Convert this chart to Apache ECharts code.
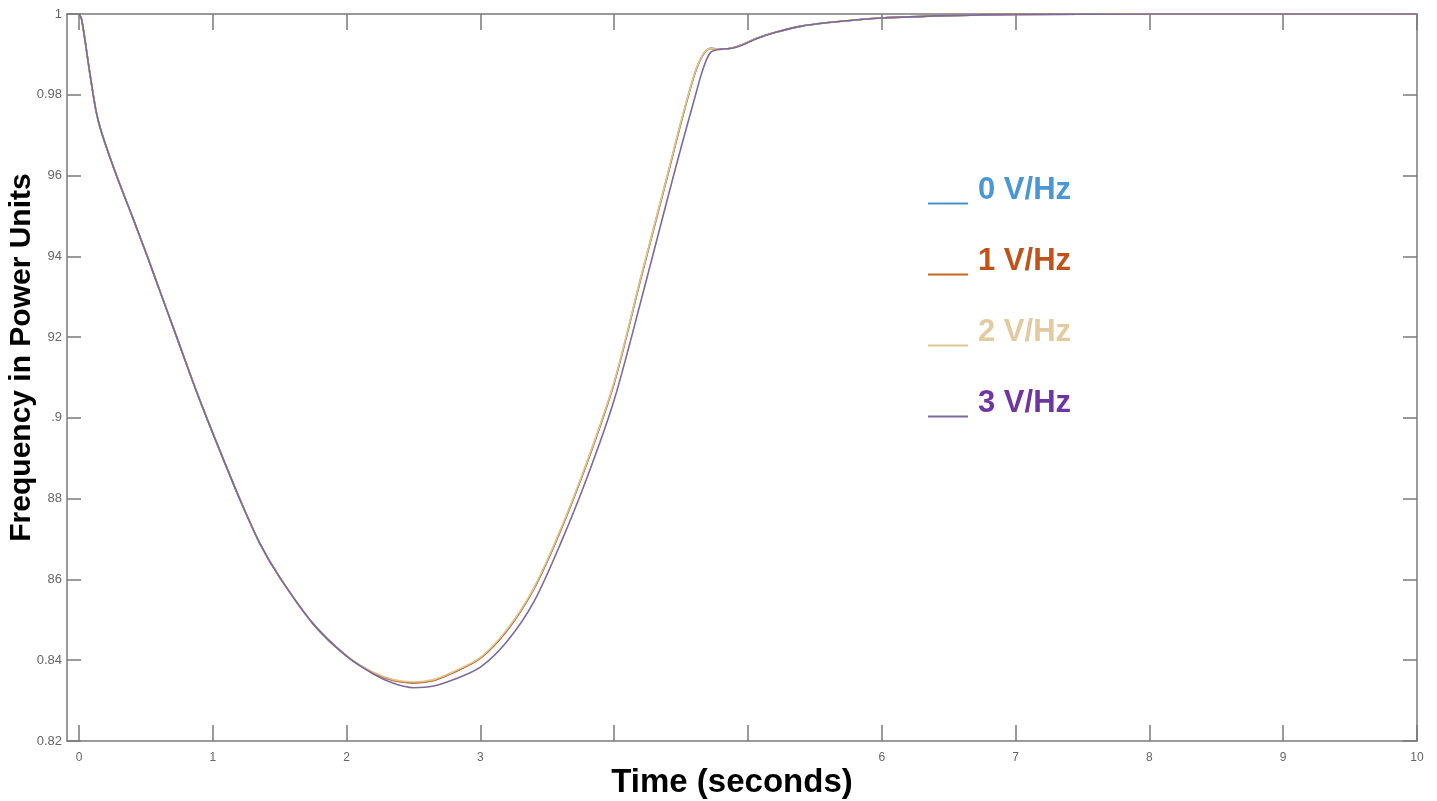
<!DOCTYPE html>
<html>
<head>
<meta charset="utf-8">
<title>Frequency response</title>
<script src="https://cdn.jsdelivr.net/npm/echarts@6/dist/echarts.min.js"></script>
<style>
  html, body { margin: 0; padding: 0; background: #fff; }
  #chart { width: 1437px; height: 801px; }
</style>
</head>
<body>
<div id="chart"></div>
<script>
// time in seconds
var times = [0, 0.02, 0.08, 0.13, 0.17, 0.28, 0.4, 0.51, 0.6, 0.73, 0.85, 0.96, 1.1, 1.2, 1.35, 1.5, 1.75, 2.0,
  2.2, 2.35, 2.5, 2.65, 2.8, 3.0, 3.2, 3.4, 3.6, 3.8, 4.0, 4.2, 4.4, 4.5, 4.6, 4.66, 4.72, 4.8, 4.88, 4.95,
  5.05, 5.2, 5.4, 5.7, 6.0, 6.5, 7.0, 8.0, 9.0, 10.0];

var freq0 = [1, 0.9986, 0.9855, 0.9755, 0.9705, 0.96, 0.9497, 0.94, 0.9318, 0.92, 0.909, 0.8995, 0.888, 0.88, 0.869, 0.8605, 0.849, 0.841,
  0.8368, 0.8350, 0.8344, 0.8350, 0.8370, 0.8405, 0.8474, 0.8577, 0.8722, 0.8892, 0.9087, 0.9347, 0.9602, 0.9732, 0.985, 0.9897,
  0.9915, 0.9913, 0.9916, 0.9923, 0.9938, 0.9954, 0.997, 0.9982, 0.999, 0.9996, 0.9999, 1, 1, 1];
var freq1 = [1, 0.9986, 0.9855, 0.9755, 0.9705, 0.96, 0.9497, 0.94, 0.9318, 0.92, 0.909, 0.8995, 0.888, 0.88, 0.869, 0.8605, 0.849, 0.841,
  0.8368, 0.8350, 0.8344, 0.8350, 0.8370, 0.8405, 0.8474, 0.8577, 0.8722, 0.8892, 0.9087, 0.9347, 0.9602, 0.9732, 0.985, 0.9897,
  0.9915, 0.9913, 0.9916, 0.9923, 0.9938, 0.9954, 0.997, 0.9982, 0.999, 0.9996, 0.9999, 1, 1, 1];
var freq2 = [1, 0.9986, 0.9855, 0.9755, 0.9705, 0.96, 0.9497, 0.94, 0.9318, 0.92, 0.909, 0.8995, 0.888, 0.88, 0.869, 0.8605, 0.849, 0.841,
  0.837, 0.8352, 0.8346, 0.8352, 0.8372, 0.8407, 0.8477, 0.858, 0.8725, 0.8895, 0.909, 0.935, 0.9605, 0.9735, 0.9852, 0.9898,
  0.9915, 0.9913, 0.9916, 0.9923, 0.9938, 0.9954, 0.997, 0.9982, 0.999, 0.9996, 0.9999, 1, 1, 1];
var freq3 = [1, 0.9986, 0.9855, 0.9755, 0.9705, 0.96, 0.9497, 0.94, 0.9318, 0.92, 0.909, 0.8995, 0.888, 0.88, 0.869, 0.8605, 0.849, 0.841,
  0.8366, 0.8343, 0.8332, 0.8336, 0.8352, 0.8383, 0.8447, 0.8545, 0.869, 0.8855, 0.9045, 0.929, 0.9545, 0.967, 0.979, 0.986,
  0.9905, 0.9913, 0.9915, 0.9922, 0.9937, 0.9954, 0.997, 0.9982, 0.999, 0.9996, 0.9999, 1, 1, 1];

var seriesNames = ['0 V/Hz', '1 V/Hz', '2 V/Hz', '3 V/Hz'];
var lineColors = ['#4a90c8', '#c8641e', '#e2c58e', '#7a6a9e'];
var textColors = ['#4a97d3', '#c0531a', '#e2cba0', '#6f35a0'];

var xTicks = [0, 1, 2, 3, 4, 5, 6, 7, 8, 9, 10];
var xTickLabels = ['0', '1', '2', '3', '', '', '6', '7', '8', '9', '10'];
var yTicks = [0.82, 0.84, 0.86, 0.88, 0.9, 0.92, 0.94, 0.96, 0.98, 1];
// the axis title hides the first digits of the middle labels in the original
var yTickLabels = ['0.82', '0.84', '86', '88', '.9', '92', '94', '96', '0.98', '1'];

function pairs(ys) {
  return times.map(function (t, i) { return [t, ys[i]]; });
}

var myChart = echarts.init(document.getElementById('chart'));
var axisGray = '#7a7a7a';
var labelFont = 'Liberation Sans, Arial, sans-serif';

function labelFor(list, labels) {
  return function (v) {
    for (var i = 0; i < list.length; i++) {
      if (Math.abs(list[i] - v) < 1e-6) return labels[i];
    }
    return '';
  };
}

var allData = [freq0, freq1, freq2, freq3];

// legend line sits at the bottom of a taller icon box, so it lines up with the text baseline
var legendIcon = 'path://M0,0 L0.01,0 L0,0.01 Z M0,26 L40,26 L40,28 L0,28 Z';

option = {
  backgroundColor: '#fff',
  animation: false,
  grid: { left: 67, right: 20, top: 14, bottom: 60, outerBoundsMode: 'none', containLabel: false },
  legend: {
    orient: 'vertical',
    left: 923,
    top: 170,
    icon: legendIcon,
    itemWidth: 40,
    itemHeight: 28,
    itemGap: 40,
    selectedMode: false,
    textStyle: {
      fontFamily: labelFont,
      fontWeight: 'bold',
      fontSize: 31,
      padding: [0, 0, 0, 5]
    },
    data: seriesNames.map(function (n, i) {
      return { name: n, textStyle: { color: textColors[i] } };
    })
  },
  xAxis: [{
    type: 'value',
    min: -0.09,
    max: 10,
    name: 'Time (seconds)',
    nameLocation: 'middle',
    nameGap: 25,
    nameMoveOverlap: false,
    nameTextStyle: { fontFamily: labelFont, fontWeight: 'bold', fontSize: 33, color: '#000', padding: [0, 20, 0, 0] },
    axisLine: { onZero: false, lineStyle: { color: axisGray, width: 1.5 } },
    axisTick: { inside: true, length: 16, customValues: xTicks, lineStyle: { color: axisGray, width: 1.5 } },
    axisLabel: { customValues: xTicks, formatter: labelFor(xTicks, xTickLabels), color: '#666', fontSize: 12, fontFamily: labelFont, margin: 11 },
    splitLine: { show: false }
  }, {
    type: 'value',
    position: 'top',
    min: -0.09,
    max: 10,
    axisLine: { onZero: false, lineStyle: { color: axisGray, width: 1.5 } },
    axisTick: { inside: true, length: 16, customValues: xTicks, lineStyle: { color: axisGray, width: 1.5 } },
    axisLabel: { show: false },
    splitLine: { show: false }
  }],
  yAxis: [{
    type: 'value',
    min: 0.82,
    max: 1,
    name: 'Frequency in Power Units',
    nameLocation: 'middle',
    nameRotate: 90,
    nameGap: 20,
    nameMoveOverlap: false,
    nameTextStyle: {
      fontFamily: labelFont, fontWeight: 'bold', fontSize: 30, color: '#000',
      padding: [2, 0, 10, 40]
    },
    axisLine: { onZero: false, lineStyle: { color: axisGray, width: 1.5 } },
    axisTick: { inside: true, length: 14, customValues: yTicks, lineStyle: { color: axisGray, width: 1.5 } },
    axisLabel: { customValues: yTicks, formatter: labelFor(yTicks, yTickLabels), color: '#666', fontSize: 13, fontFamily: labelFont, margin: 5 },
    splitLine: { show: false }
  }, {
    type: 'value',
    position: 'right',
    min: 0.82,
    max: 1,
    axisLine: { onZero: false, lineStyle: { color: axisGray, width: 1.5 } },
    axisTick: { inside: true, length: 14, customValues: yTicks, lineStyle: { color: axisGray, width: 1.5 } },
    axisLabel: { show: false },
    splitLine: { show: false }
  }],
  series: seriesNames.map(function (n, i) {
    return {
      name: n,
      type: 'line',
      xAxisIndex: 0,
      yAxisIndex: 0,
      showSymbol: false,
      symbol: 'none',
      smooth: 0.3,
      color: lineColors[i],
      lineStyle: { width: 1.6, color: lineColors[i] },
      data: pairs(allData[i])
    };
  })
};

myChart.setOption(option);
</script>
</body>
</html>
